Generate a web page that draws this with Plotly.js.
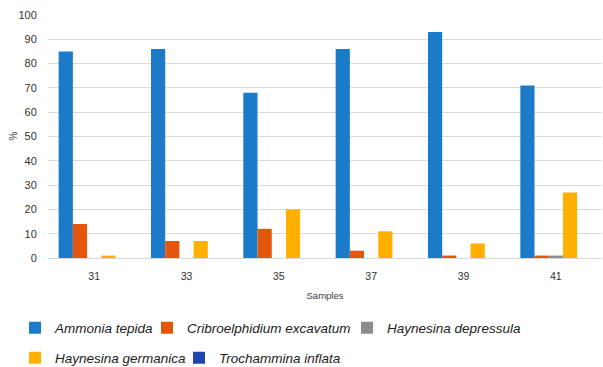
<!DOCTYPE html>
<html>
<head>
<meta charset="utf-8">
<script src="https://cdn.plot.ly/plotly-3.0.1.min.js"></script>
<style>
  html, body { margin: 0; padding: 0; background: #ffffff; }
  #chart { width: 603px; height: 367px; }
</style>
</head>
<body>
<div id="chart"></div>
<script>
// Sample numbers along the core
var samples = ['31', '33', '35', '37', '39', '41'];

// Relative abundance (%) of each foraminifera species per sample
var ammoniaTepida            = [85, 86, 68, 86, 93, 71];
var cribroelphidiumExcavatum = [14, 7, 12, 3, 1, 1];
var haynesinaDepressula      = [0, 0, 0, 0, 0, 1];
var haynesinaGermanica       = [1, 7, 20, 11, 6, 27];
var trochamminaInflata       = [0, 0, 0, 0, 0, 0];

var speciesNames = ['Ammonia tepida', 'Cribroelphidium excavatum', 'Haynesina depressula',
                    'Haynesina germanica', 'Trochammina inflata'];
var speciesValues = [ammoniaTepida, cribroelphidiumExcavatum, haynesinaDepressula,
                     haynesinaGermanica, trochamminaInflata];
var speciesColors = ['#1c7bc9', '#e4560c', '#8c8c8c', '#ffb000', '#1f45b0'];

// Each species gets its own one-entry legend so the two rows sit where they should
var legendKeys = ['legend', 'legend2', 'legend3', 'legend4', 'legend5'];
var legendX = [15, 147, 347, 15, 179];      // px from left of the page
var legendY = [328, 328, 328, 358, 358];    // px from top of the page

var W = 603, H = 367;
var M = { l: 48, r: 1, t: 15, b: 109 };

var traces = speciesNames.map(function (name, i) {
  return {
    type: 'bar',
    name: name,
    x: samples,
    y: speciesValues[i],
    marker: { color: speciesColors[i] },
    legend: legendKeys[i],
    showlegend: true,
    hoverinfo: 'x+y+name'
  };
});

var legendFont = { family: 'Liberation Sans, Arial, sans-serif', size: 13.5, color: '#222222', style: 'italic' };

var layout = {
  width: W,
  height: H,
  showlegend: true,
  margin: M,
  paper_bgcolor: '#ffffff',
  plot_bgcolor: '#ffffff',
  barmode: 'group',
  bargap: 0.231,
  bargroupgap: 0,
  font: { family: 'Liberation Sans, Arial, sans-serif', color: '#404040' },
  xaxis: {
    type: 'category',
    showgrid: false,
    showline: true,
    linecolor: '#d9d9d9',
    linewidth: 1,
    ticks: '',
    ticklabelstandoff: 8,
    tickfont: { size: 10.5, color: '#333333' },
    title: { text: 'Samples', font: { size: 9.5, color: '#404040' }, standoff: 11 }
  },
  yaxis: {
    range: [0, 100],
    dtick: 10,
    showgrid: true,
    gridcolor: '#d9d9d9',
    gridwidth: 1,
    zeroline: false,
    showline: false,
    // invisible ticks push the labels away from the plot edge
    ticks: 'outside',
    ticklen: 8,
    tickcolor: 'rgba(0,0,0,0)',
    tickfont: { size: 11, color: '#333333' }
  },
  // y-axis unit label, placed a fixed distance left of the tick labels
  annotations: [{
    text: '%',
    xref: 'paper',
    yref: 'paper',
    x: (13 - M.l) / (W - M.l - M.r),
    y: 0.5,
    xanchor: 'center',
    yanchor: 'middle',
    textangle: -90,
    showarrow: false,
    font: { size: 10, color: '#404040' }
  }]
};

legendKeys.forEach(function (key, i) {
  layout[key] = {
    visible: true,
    orientation: 'h',
    xref: 'container',
    yref: 'container',
    x: legendX[i] / W,
    y: 1 - legendY[i] / H,
    xanchor: 'left',
    yanchor: 'middle',
    bgcolor: 'rgba(0,0,0,0)',
    borderwidth: 0,
    font: legendFont,
    itemclick: false,
    itemdoubleclick: false
  };
});

Plotly.newPlot('chart', traces, layout, { displayModeBar: false, staticPlot: true });
</script>
</body>
</html>
